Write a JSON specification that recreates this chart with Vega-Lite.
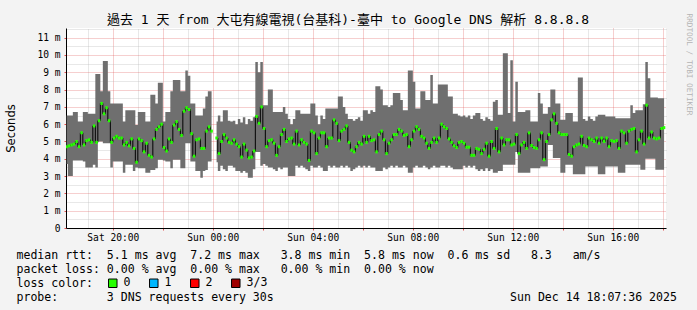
{
"$schema": "https://vega.github.io/schema/vega-lite/v6.json",
"width": 600, "height": 200,
"autosize": {"type": "none"},
"padding": {"left": 66, "top": 28, "right": 31, "bottom": 82},
"background": "#f3f3f3",
"config": {
 "view": {"fill": "#ffffff", "stroke": null},
 "font": "DejaVu Sans Mono",
 "axis": {"labelFont": "DejaVu Sans Mono", "labelFontSize": 9.6, "labelColor": "#000000", "titleFont": "DejaVu Sans Mono", "titleFontWeight": "normal", "titleColor": "#000000"}
},
"title": {"text": "過去 1 天 from 大屯有線電視(台基科)-臺中 to Google DNS 解析 8.8.8.8", "font": "DejaVu Sans Mono, Noto Sans CJK TC", "fontSize": 13, "fontWeight": "normal", "color": "#000000", "anchor": "middle", "frame": "group", "dx": -18, "dy": 26, "offset": 2, "baseline": "alphabetic"},
"data": {"values": [
{"t":"2025-12-13T18:09","lo":3.7,"hi":6.5,"med":4.7},
{"t":"2025-12-13T18:15","lo":3.0,"hi":6.5,"med":4.75},
{"t":"2025-12-13T18:21","lo":3.0,"hi":6.5,"med":4.8},
{"t":"2025-12-13T18:27","lo":3.9,"hi":6.7,"med":4.85},
{"t":"2025-12-13T18:33","lo":3.9,"hi":6.7,"med":5.0},
{"t":"2025-12-13T18:39","lo":3.9,"hi":6.15,"med":4.7},
{"t":"2025-12-13T18:45","lo":3.9,"hi":6.15,"med":5.5},
{"t":"2025-12-13T18:51","lo":3.85,"hi":6.7,"med":4.8},
{"t":"2025-12-13T18:57","lo":3.5,"hi":6.7,"med":5.05},
{"t":"2025-12-13T19:03","lo":3.5,"hi":6.6,"med":5.1},
{"t":"2025-12-13T19:09","lo":3.5,"hi":6.6,"med":4.95},
{"t":"2025-12-13T19:15","lo":3.65,"hi":6.6,"med":5.9},
{"t":"2025-12-13T19:21","lo":3.5,"hi":8.9,"med":4.95},
{"t":"2025-12-13T19:27","lo":5.0,"hi":8.9,"med":6.2},
{"t":"2025-12-13T19:33","lo":5.0,"hi":7.9,"med":7.2},
{"t":"2025-12-13T19:39","lo":4.9,"hi":9.65,"med":6.6},
{"t":"2025-12-13T19:45","lo":4.9,"hi":9.65,"med":6.95},
{"t":"2025-12-13T19:51","lo":4.9,"hi":7.9,"med":6.2},
{"t":"2025-12-13T19:57","lo":3.5,"hi":7.2,"med":4.95},
{"t":"2025-12-13T20:03","lo":3.85,"hi":7.2,"med":5.2},
{"t":"2025-12-13T20:09","lo":3.85,"hi":7.2,"med":5.3},
{"t":"2025-12-13T20:15","lo":3.85,"hi":7.2,"med":5.2},
{"t":"2025-12-13T20:21","lo":3.85,"hi":7.2,"med":5.2},
{"t":"2025-12-13T20:27","lo":3.2,"hi":6.15,"med":4.8},
{"t":"2025-12-13T20:33","lo":3.65,"hi":6.8,"med":4.95},
{"t":"2025-12-13T20:39","lo":3.65,"hi":6.8,"med":4.75},
{"t":"2025-12-13T20:45","lo":3.65,"hi":6.8,"med":5.15},
{"t":"2025-12-13T20:51","lo":3.3,"hi":6.8,"med":4.6},
{"t":"2025-12-13T20:57","lo":3.5,"hi":5.95,"med":3.8},
{"t":"2025-12-13T21:03","lo":3.45,"hi":6.7,"med":5.15},
{"t":"2025-12-13T21:09","lo":3.45,"hi":6.7,"med":5.05},
{"t":"2025-12-13T21:15","lo":3.45,"hi":6.7,"med":4.4},
{"t":"2025-12-13T21:21","lo":3.2,"hi":6.15,"med":4.9},
{"t":"2025-12-13T21:27","lo":3.2,"hi":6.15,"med":4.2},
{"t":"2025-12-13T21:33","lo":3.35,"hi":7.7,"med":4.1},
{"t":"2025-12-13T21:39","lo":3.35,"hi":7.7,"med":5.15},
{"t":"2025-12-13T21:45","lo":3.45,"hi":7.2,"med":5.7},
{"t":"2025-12-13T21:51","lo":3.95,"hi":8.4,"med":5.85},
{"t":"2025-12-13T21:57","lo":3.95,"hi":8.4,"med":6.0},
{"t":"2025-12-13T22:03","lo":3.9,"hi":6.15,"med":4.65},
{"t":"2025-12-13T22:09","lo":3.85,"hi":6.7,"med":4.45},
{"t":"2025-12-13T22:15","lo":3.85,"hi":6.7,"med":5.15},
{"t":"2025-12-13T22:21","lo":3.45,"hi":7.9,"med":4.95},
{"t":"2025-12-13T22:27","lo":3.95,"hi":8.55,"med":5.95},
{"t":"2025-12-13T22:33","lo":3.95,"hi":8.55,"med":6.15},
{"t":"2025-12-13T22:39","lo":3.95,"hi":8.55,"med":5.7},
{"t":"2025-12-13T22:45","lo":3.45,"hi":7.9,"med":5.35},
{"t":"2025-12-13T22:51","lo":3.45,"hi":7.9,"med":6.75},
{"t":"2025-12-13T22:57","lo":4.9,"hi":9.1,"med":6.95},
{"t":"2025-12-13T23:03","lo":4.9,"hi":8.8,"med":6.85},
{"t":"2025-12-13T23:09","lo":3.85,"hi":7.2,"med":5.45},
{"t":"2025-12-13T23:15","lo":3.85,"hi":7.2,"med":4.15},
{"t":"2025-12-13T23:21","lo":3.3,"hi":6.5,"med":5.1},
{"t":"2025-12-13T23:27","lo":3.3,"hi":6.5,"med":5.15},
{"t":"2025-12-13T23:33","lo":2.9,"hi":6.5,"med":4.6},
{"t":"2025-12-13T23:39","lo":3.3,"hi":6.9,"med":4.6},
{"t":"2025-12-13T23:45","lo":3.35,"hi":7.6,"med":5.6},
{"t":"2025-12-13T23:51","lo":3.85,"hi":7.9,"med":5.85},
{"t":"2025-12-13T23:57","lo":3.85,"hi":7.9,"med":5.6},
{"t":"2025-12-14T00:03","lo":null,"hi":null,"med":null},
{"t":"2025-12-14T00:09","lo":3.8,"hi":6.15,"med":5.2},
{"t":"2025-12-14T00:15","lo":3.3,"hi":6.5,"med":4.3},
{"t":"2025-12-14T00:21","lo":3.6,"hi":6.15,"med":5.0},
{"t":"2025-12-14T00:27","lo":3.4,"hi":6.8,"med":5.4},
{"t":"2025-12-14T00:33","lo":3.3,"hi":6.8,"med":5.2},
{"t":"2025-12-14T00:39","lo":3.6,"hi":6.2,"med":4.95},
{"t":"2025-12-14T00:45","lo":3.6,"hi":6.15,"med":4.9},
{"t":"2025-12-14T00:51","lo":3.5,"hi":6.2,"med":5.1},
{"t":"2025-12-14T00:57","lo":3.3,"hi":6.0,"med":4.85},
{"t":"2025-12-14T01:03","lo":3.3,"hi":6.3,"med":4.7},
{"t":"2025-12-14T01:09","lo":3.2,"hi":6.1,"med":4.1},
{"t":"2025-12-14T01:15","lo":3.3,"hi":6.4,"med":4.85},
{"t":"2025-12-14T01:21","lo":3.2,"hi":6.0,"med":4.5},
{"t":"2025-12-14T01:27","lo":2.9,"hi":6.3,"med":4.05},
{"t":"2025-12-14T01:33","lo":2.9,"hi":6.2,"med":4.1},
{"t":"2025-12-14T01:39","lo":3.4,"hi":6.4,"med":4.45},
{"t":"2025-12-14T01:45","lo":4.4,"hi":9.6,"med":6.45},
{"t":"2025-12-14T01:51","lo":4.4,"hi":9.0,"med":6.05},
{"t":"2025-12-14T01:57","lo":3.6,"hi":9.6,"med":7.0},
{"t":"2025-12-14T02:03","lo":3.7,"hi":7.1,"med":5.75},
{"t":"2025-12-14T02:09","lo":3.6,"hi":7.1,"med":4.7},
{"t":"2025-12-14T02:15","lo":3.5,"hi":8.0,"med":5.05},
{"t":"2025-12-14T02:21","lo":3.5,"hi":8.0,"med":5.1},
{"t":"2025-12-14T02:27","lo":3.4,"hi":6.7,"med":4.9},
{"t":"2025-12-14T02:33","lo":3.3,"hi":6.7,"med":4.2},
{"t":"2025-12-14T02:39","lo":3.5,"hi":6.7,"med":4.7},
{"t":"2025-12-14T02:45","lo":3.4,"hi":6.7,"med":5.4},
{"t":"2025-12-14T02:51","lo":3.5,"hi":7.0,"med":5.7},
{"t":"2025-12-14T02:57","lo":3.5,"hi":6.6,"med":5.0},
{"t":"2025-12-14T03:03","lo":3.0,"hi":6.3,"med":5.15},
{"t":"2025-12-14T03:09","lo":3.0,"hi":6.0,"med":5.2},
{"t":"2025-12-14T03:15","lo":3.0,"hi":6.3,"med":4.85},
{"t":"2025-12-14T03:21","lo":3.6,"hi":6.8,"med":5.6},
{"t":"2025-12-14T03:27","lo":3.5,"hi":6.8,"med":4.8},
{"t":"2025-12-14T03:33","lo":3.6,"hi":6.6,"med":5.1},
{"t":"2025-12-14T03:39","lo":3.5,"hi":6.6,"med":4.95},
{"t":"2025-12-14T03:45","lo":3.4,"hi":6.6,"med":4.85},
{"t":"2025-12-14T03:51","lo":3.3,"hi":6.6,"med":3.9},
{"t":"2025-12-14T03:57","lo":3.6,"hi":7.2,"med":5.6},
{"t":"2025-12-14T04:03","lo":3.5,"hi":7.2,"med":5.5},
{"t":"2025-12-14T04:09","lo":3.5,"hi":6.5,"med":4.3},
{"t":"2025-12-14T04:15","lo":3.6,"hi":6.0,"med":5.2},
{"t":"2025-12-14T04:21","lo":3.5,"hi":6.5,"med":5.5},
{"t":"2025-12-14T04:27","lo":3.3,"hi":6.3,"med":5.5},
{"t":"2025-12-14T04:33","lo":3.3,"hi":6.9,"med":4.7},
{"t":"2025-12-14T04:39","lo":3.6,"hi":6.9,"med":5.2},
{"t":"2025-12-14T04:45","lo":3.5,"hi":6.9,"med":5.2},
{"t":"2025-12-14T04:51","lo":3.6,"hi":6.9,"med":6.25},
{"t":"2025-12-14T04:57","lo":3.5,"hi":6.9,"med":6.05},
{"t":"2025-12-14T05:03","lo":3.5,"hi":7.6,"med":5.05},
{"t":"2025-12-14T05:09","lo":3.6,"hi":7.6,"med":5.6},
{"t":"2025-12-14T05:15","lo":3.5,"hi":7.0,"med":5.7},
{"t":"2025-12-14T05:21","lo":3.6,"hi":6.6,"med":5.9},
{"t":"2025-12-14T05:27","lo":3.5,"hi":6.3,"med":4.95},
{"t":"2025-12-14T05:33","lo":3.3,"hi":6.3,"med":4.5},
{"t":"2025-12-14T05:39","lo":3.4,"hi":6.2,"med":4.4},
{"t":"2025-12-14T05:45","lo":3.5,"hi":6.3,"med":4.7},
{"t":"2025-12-14T05:51","lo":3.6,"hi":6.4,"med":4.95},
{"t":"2025-12-14T05:57","lo":3.5,"hi":6.2,"med":4.85},
{"t":"2025-12-14T06:03","lo":3.6,"hi":6.8,"med":5.3},
{"t":"2025-12-14T06:09","lo":3.5,"hi":6.8,"med":4.95},
{"t":"2025-12-14T06:15","lo":3.6,"hi":6.6,"med":5.3},
{"t":"2025-12-14T06:21","lo":3.5,"hi":6.8,"med":5.05},
{"t":"2025-12-14T06:27","lo":3.5,"hi":6.7,"med":5.1},
{"t":"2025-12-14T06:33","lo":3.3,"hi":8.2,"med":4.4},
{"t":"2025-12-14T06:39","lo":3.3,"hi":8.2,"med":5.4},
{"t":"2025-12-14T06:45","lo":3.3,"hi":8.0,"med":5.6},
{"t":"2025-12-14T06:51","lo":3.5,"hi":7.1,"med":5.1},
{"t":"2025-12-14T06:57","lo":3.4,"hi":7.1,"med":4.3},
{"t":"2025-12-14T07:03","lo":3.5,"hi":7.0,"med":4.9},
{"t":"2025-12-14T07:09","lo":3.6,"hi":7.1,"med":5.1},
{"t":"2025-12-14T07:15","lo":3.5,"hi":7.8,"med":5.4},
{"t":"2025-12-14T07:21","lo":3.6,"hi":7.8,"med":5.4},
{"t":"2025-12-14T07:27","lo":3.5,"hi":7.8,"med":5.7},
{"t":"2025-12-14T07:33","lo":3.5,"hi":7.4,"med":5.6},
{"t":"2025-12-14T07:39","lo":3.6,"hi":6.8,"med":5.35},
{"t":"2025-12-14T07:45","lo":3.5,"hi":6.8,"med":5.4},
{"t":"2025-12-14T07:51","lo":3.2,"hi":9.1,"med":4.7},
{"t":"2025-12-14T07:57","lo":3.2,"hi":9.1,"med":5.1},
{"t":"2025-12-14T08:03","lo":3.5,"hi":8.45,"med":5.6},
{"t":"2025-12-14T08:09","lo":3.6,"hi":6.9,"med":5.85},
{"t":"2025-12-14T08:15","lo":3.5,"hi":6.9,"med":5.7},
{"t":"2025-12-14T08:21","lo":3.5,"hi":7.9,"med":5.3},
{"t":"2025-12-14T08:27","lo":3.6,"hi":7.9,"med":5.2},
{"t":"2025-12-14T08:33","lo":3.5,"hi":7.4,"med":4.9},
{"t":"2025-12-14T08:39","lo":3.4,"hi":7.4,"med":4.6},
{"t":"2025-12-14T08:45","lo":3.5,"hi":8.85,"med":4.95},
{"t":"2025-12-14T08:51","lo":3.6,"hi":7.2,"med":5.2},
{"t":"2025-12-14T08:57","lo":3.5,"hi":7.2,"med":4.95},
{"t":"2025-12-14T09:03","lo":3.5,"hi":8.3,"med":5.2},
{"t":"2025-12-14T09:09","lo":3.6,"hi":8.3,"med":6.0},
{"t":"2025-12-14T09:15","lo":3.6,"hi":8.3,"med":5.85},
{"t":"2025-12-14T09:21","lo":3.5,"hi":8.3,"med":5.75},
{"t":"2025-12-14T09:27","lo":3.6,"hi":7.6,"med":5.15},
{"t":"2025-12-14T09:33","lo":3.5,"hi":7.6,"med":4.95},
{"t":"2025-12-14T09:39","lo":3.4,"hi":6.6,"med":4.75},
{"t":"2025-12-14T09:45","lo":3.4,"hi":6.6,"med":4.65},
{"t":"2025-12-14T09:51","lo":3.4,"hi":6.5,"med":4.95},
{"t":"2025-12-14T09:57","lo":3.4,"hi":6.45,"med":5.0},
{"t":"2025-12-14T10:03","lo":3.6,"hi":6.5,"med":4.9},
{"t":"2025-12-14T10:09","lo":3.5,"hi":6.4,"med":4.67},
{"t":"2025-12-14T10:15","lo":3.6,"hi":6.5,"med":4.67},
{"t":"2025-12-14T10:21","lo":3.5,"hi":6.3,"med":4.2},
{"t":"2025-12-14T10:27","lo":3.6,"hi":6.5,"med":4.2},
{"t":"2025-12-14T10:33","lo":3.4,"hi":6.65,"med":4.6},
{"t":"2025-12-14T10:39","lo":3.3,"hi":6.65,"med":4.55},
{"t":"2025-12-14T10:45","lo":3.4,"hi":6.3,"med":4.3},
{"t":"2025-12-14T10:51","lo":3.3,"hi":6.2,"med":4.55},
{"t":"2025-12-14T10:57","lo":3.45,"hi":6.4,"med":4.9},
{"t":"2025-12-14T11:03","lo":3.3,"hi":6.3,"med":4.15},
{"t":"2025-12-14T11:09","lo":3.4,"hi":6.2,"med":5.0},
{"t":"2025-12-14T11:15","lo":3.2,"hi":7.3,"med":4.6},
{"t":"2025-12-14T11:21","lo":3.2,"hi":7.4,"med":5.75},
{"t":"2025-12-14T11:27","lo":3.3,"hi":6.55,"med":4.4},
{"t":"2025-12-14T11:33","lo":3.3,"hi":6.55,"med":5.2},
{"t":"2025-12-14T11:39","lo":3.65,"hi":10.1,"med":4.8},
{"t":"2025-12-14T11:45","lo":3.65,"hi":10.1,"med":5.1},
{"t":"2025-12-14T11:51","lo":3.65,"hi":6.65,"med":5.1},
{"t":"2025-12-14T11:57","lo":3.65,"hi":9.7,"med":4.8},
{"t":"2025-12-14T12:03","lo":3.65,"hi":6.15,"med":4.85},
{"t":"2025-12-14T12:09","lo":4.4,"hi":8.45,"med":5.4},
{"t":"2025-12-14T12:15","lo":3.2,"hi":6.7,"med":4.3},
{"t":"2025-12-14T12:21","lo":3.2,"hi":6.7,"med":4.8},
{"t":"2025-12-14T12:27","lo":3.2,"hi":6.7,"med":4.95},
{"t":"2025-12-14T12:33","lo":3.2,"hi":6.8,"med":4.6},
{"t":"2025-12-14T12:39","lo":3.2,"hi":6.8,"med":5.5},
{"t":"2025-12-14T12:45","lo":3.45,"hi":6.15,"med":4.77},
{"t":"2025-12-14T12:51","lo":3.45,"hi":6.15,"med":4.65},
{"t":"2025-12-14T12:57","lo":3.45,"hi":6.15,"med":4.6},
{"t":"2025-12-14T13:03","lo":3.45,"hi":7.8,"med":5.1},
{"t":"2025-12-14T13:09","lo":3.55,"hi":7.2,"med":5.5},
{"t":"2025-12-14T13:15","lo":3.55,"hi":6.6,"med":3.95},
{"t":"2025-12-14T13:21","lo":3.55,"hi":6.6,"med":5.0},
{"t":"2025-12-14T13:27","lo":4.8,"hi":7.0,"med":5.4},
{"t":"2025-12-14T13:33","lo":4.8,"hi":8.0,"med":6.25},
{"t":"2025-12-14T13:39","lo":4.05,"hi":8.0,"med":6.6},
{"t":"2025-12-14T13:45","lo":4.05,"hi":7.2,"med":6.05},
{"t":"2025-12-14T13:51","lo":4.05,"hi":7.2,"med":5.5},
{"t":"2025-12-14T13:57","lo":3.2,"hi":6.25,"med":5.4},
{"t":"2025-12-14T14:03","lo":3.2,"hi":6.25,"med":5.4},
{"t":"2025-12-14T14:09","lo":3.65,"hi":6.65,"med":5.4},
{"t":"2025-12-14T14:15","lo":3.65,"hi":6.65,"med":4.25},
{"t":"2025-12-14T14:21","lo":3.65,"hi":6.65,"med":4.15},
{"t":"2025-12-14T14:27","lo":3.1,"hi":6.15,"med":4.7},
{"t":"2025-12-14T14:33","lo":3.1,"hi":6.15,"med":4.8},
{"t":"2025-12-14T14:39","lo":3.1,"hi":8.7,"med":4.85},
{"t":"2025-12-14T14:45","lo":3.1,"hi":8.7,"med":5.3},
{"t":"2025-12-14T14:51","lo":3.1,"hi":6.3,"med":4.77},
{"t":"2025-12-14T14:57","lo":3.55,"hi":6.2,"med":4.7},
{"t":"2025-12-14T15:03","lo":3.55,"hi":6.45,"med":5.2},
{"t":"2025-12-14T15:09","lo":3.55,"hi":6.3,"med":5.1},
{"t":"2025-12-14T15:15","lo":3.55,"hi":6.2,"med":5.0},
{"t":"2025-12-14T15:21","lo":3.55,"hi":6.45,"med":5.2},
{"t":"2025-12-14T15:27","lo":3.1,"hi":6.55,"med":4.9},
{"t":"2025-12-14T15:33","lo":3.1,"hi":6.55,"med":5.2},
{"t":"2025-12-14T15:39","lo":3.1,"hi":6.55,"med":5.0},
{"t":"2025-12-14T15:45","lo":3.55,"hi":6.45,"med":5.2},
{"t":"2025-12-14T15:51","lo":3.55,"hi":6.45,"med":4.7},
{"t":"2025-12-14T15:57","lo":3.55,"hi":6.45,"med":5.05},
{"t":"2025-12-14T16:03","lo":3.55,"hi":6.45,"med":5.0},
{"t":"2025-12-14T16:09","lo":3.55,"hi":6.35,"med":5.05},
{"t":"2025-12-14T16:15","lo":3.2,"hi":6.35,"med":4.6},
{"t":"2025-12-14T16:21","lo":3.2,"hi":6.35,"med":5.6},
{"t":"2025-12-14T16:27","lo":3.2,"hi":6.35,"med":5.5},
{"t":"2025-12-14T16:33","lo":3.65,"hi":6.35,"med":4.9},
{"t":"2025-12-14T16:39","lo":3.65,"hi":6.35,"med":5.6},
{"t":"2025-12-14T16:45","lo":3.65,"hi":7.1,"med":5.7},
{"t":"2025-12-14T16:51","lo":3.65,"hi":6.65,"med":5.75},
{"t":"2025-12-14T16:57","lo":3.65,"hi":6.8,"med":4.4},
{"t":"2025-12-14T17:03","lo":3.65,"hi":6.8,"med":5.1},
{"t":"2025-12-14T17:09","lo":3.37,"hi":6.8,"med":5.6},
{"t":"2025-12-14T17:15","lo":3.37,"hi":7.15,"med":4.85},
{"t":"2025-12-14T17:21","lo":4.0,"hi":9.6,"med":7.1},
{"t":"2025-12-14T17:27","lo":4.0,"hi":8.65,"med":5.2},
{"t":"2025-12-14T17:33","lo":4.0,"hi":7.55,"med":5.55},
{"t":"2025-12-14T17:39","lo":4.0,"hi":7.55,"med":5.2},
{"t":"2025-12-14T17:45","lo":3.37,"hi":7.55,"med":5.15},
{"t":"2025-12-14T17:51","lo":3.37,"hi":7.5,"med":5.2},
{"t":"2025-12-14T17:57","lo":3.37,"hi":7.5,"med":5.75},
{"t":"2025-12-14T18:03","lo":3.37,"hi":7.5,"med":5.8}
]},
"layer": [
 {
  "mark": {"type": "area", "interpolate": "step", "color": "#6f6f6f", "opacity": 1, "invalid": "break-paths-filter-domains", "clip": true},
  "encoding": {
   "x": {"field": "t", "type": "temporal",
    "scale": {"domain": [{"year": 2025, "month": 12, "date": 13, "hours": 18, "minutes": 7, "seconds": 36}, {"year": 2025, "month": 12, "date": 14, "hours": 18, "minutes": 7, "seconds": 36}]},
    "axis": {"orient": "top", "values": [
      {"year": 2025, "month": 12, "date": 13, "hours": 19}, {"year": 2025, "month": 12, "date": 13, "hours": 21}, {"year": 2025, "month": 12, "date": 13, "hours": 23},
      {"year": 2025, "month": 12, "date": 14, "hours": 1}, {"year": 2025, "month": 12, "date": 14, "hours": 3}, {"year": 2025, "month": 12, "date": 14, "hours": 5},
      {"year": 2025, "month": 12, "date": 14, "hours": 7}, {"year": 2025, "month": 12, "date": 14, "hours": 9}, {"year": 2025, "month": 12, "date": 14, "hours": 11},
      {"year": 2025, "month": 12, "date": 14, "hours": 13}, {"year": 2025, "month": 12, "date": 14, "hours": 15}, {"year": 2025, "month": 12, "date": 14, "hours": 17}],
     "grid": true, "gridColor": "#b0b0b0", "gridOpacity": 0.6, "gridDash": [1, 1], "labels": false, "ticks": false, "domain": false, "title": null}},
   "y": {"field": "hi", "type": "quantitative",
    "scale": {"domain": [0, 11.56], "nice": false, "zero": true},
    "axis": {"orient": "right", "values": [0.5, 1.5, 2.5, 3.5, 4.5, 5.5, 6.5, 7.5, 8.5, 9.5, 10.5, 11.5],
     "grid": true, "gridColor": "#b0b0b0", "gridOpacity": 0.6, "gridDash": [1, 1], "labels": false, "ticks": false, "domain": false,
     "title": "RRDTOOL / TOBI OETIKER", "titleFont": "DejaVu Sans Mono", "titleFontSize": 7.7, "titleColor": "#b4b4b4", "titleAngle": 90, "titleX": 22, "titleY": 36, "titleAlign": "center", "titleBaseline": "middle"}},
   "y2": {"field": "lo"}
  }
 },
 {
  "mark": {"type": "line", "interpolate": "step", "color": "#000000", "strokeWidth": 1, "invalid": "break-paths-filter-domains", "clip": true},
  "encoding": {
   "x": {"field": "t", "type": "temporal",
    "axis": {"orient": "bottom", "values": [
      {"year": 2025, "month": 12, "date": 13, "hours": 20}, {"year": 2025, "month": 12, "date": 13, "hours": 22},
      {"year": 2025, "month": 12, "date": 14, "hours": 0}, {"year": 2025, "month": 12, "date": 14, "hours": 2}, {"year": 2025, "month": 12, "date": 14, "hours": 4},
      {"year": 2025, "month": 12, "date": 14, "hours": 6}, {"year": 2025, "month": 12, "date": 14, "hours": 8}, {"year": 2025, "month": 12, "date": 14, "hours": 10},
      {"year": 2025, "month": 12, "date": 14, "hours": 12}, {"year": 2025, "month": 12, "date": 14, "hours": 14}, {"year": 2025, "month": 12, "date": 14, "hours": 16},
      {"year": 2025, "month": 12, "date": 14, "hours": 18}],
     "labelExpr": "hours(datum.value) % 4 == 0 ? timeFormat(datum.value, '%a %H:%M') : ''",
     "labelFlush": false, "labelOverlap": false, "labelPadding": 2,
     "grid": true, "gridColor": "#e05050", "gridOpacity": 0.55, "gridDash": [1, 1],
     "ticks": true, "tickColor": "#e05050", "tickSize": 2, "domain": true, "domainColor": "#000000", "domainWidth": 1,
     "title": [
      "median rtt:\u00a0\u00a05.1 ms avg\u00a0\u00a07.2 ms max\u00a0\u00a0\u00a03.8 ms min\u00a0\u00a05.8 ms now\u00a0\u00a00.6 ms sd\u00a0\u00a0\u00a08.3\u00a0\u00a0\u00a0am/s",
      "packet loss:\u00a00.00 % avg\u00a0\u00a00.00 % max\u00a0\u00a0\u00a00.00 % min\u00a0\u00a00.00 % now",
      "loss color:",
      "probe:\u00a0\u00a0\u00a0\u00a0\u00a0\u00a0\u00a03 DNS requests every 30s\u00a0\u00a0\u00a0\u00a0\u00a0\u00a0\u00a0\u00a0\u00a0\u00a0\u00a0\u00a0\u00a0\u00a0\u00a0\u00a0\u00a0\u00a0\u00a0\u00a0\u00a0\u00a0\u00a0\u00a0\u00a0\u00a0\u00a0\u00a0\u00a0\u00a0\u00a0\u00a0\u00a0\u00a0Sun Dec 14 18:07:36 2025"],
     "titleFont": "DejaVu Sans Mono", "titleFontSize": 11.56, "titleFontWeight": "normal", "titleColor": "#000000",
     "titleAnchor": "start", "titleAlign": "left", "titleBaseline": "top", "titleX": -50, "titleY": 21, "titleLineHeight": 14}},
   "y": {"field": "med", "type": "quantitative",
    "axis": {"orient": "left", "values": [0, 1, 2, 3, 4, 5, 6, 7, 8, 9, 10, 11],
     "labelExpr": "datum.value == 0 ? '0' : datum.value + ' m'",
     "labelPadding": 4, "labelFlush": false, "labelOverlap": false,
     "grid": true, "gridColor": "#e05050", "gridOpacity": 0.55, "gridDash": [1, 1],
     "ticks": true, "tickColor": "#e05050", "tickSize": 2, "domain": true, "domainColor": "#000000", "domainWidth": 1,
     "title": "Seconds", "titleFont": "DejaVu Sans", "titleFontSize": 11.56, "titleFontWeight": "normal", "titleColor": "#000000",
     "titleX": -55, "titleY": 100, "titleAngle": -90, "titleAlign": "center", "titleBaseline": "middle"}}
  }
 },
 {
  "mark": {"type": "tick", "orient": "horizontal", "size": 2.5, "thickness": 3, "opacity": 1, "clip": true},
  "encoding": {
   "x": {"field": "t", "type": "temporal", "axis": null},
   "y": {"field": "med", "type": "quantitative", "axis": null},
   "color": {"datum": "0", "type": "nominal",
    "scale": {"domain": ["0", "1", "2", "3/3"], "range": ["#26ff00", "#00b8ff", "#ff0000", "#a00000"]},
    "legend": {"orient": "none", "legendX": 41, "legendY": 249, "direction": "horizontal",
     "title": null,
     "labelFont": "DejaVu Sans Mono", "labelFontSize": 11.56, "labelColor": "#000000", "labelOffset": 5, "labelLimit": 0,
     "symbolType": "square", "symbolSize": 72, "symbolStrokeColor": "#000000", "symbolStrokeWidth": 1, "symbolOpacity": 1,
     "columnPadding": 16, "padding": 0,
     "encode": {"symbols": {"update": {"stroke": {"value": "#000000"}, "strokeWidth": {"value": 1}, "opacity": {"value": 1}}}}}}
  }
 }
],
"resolve": {"axis": {"x": "independent", "y": "independent"}}
}
